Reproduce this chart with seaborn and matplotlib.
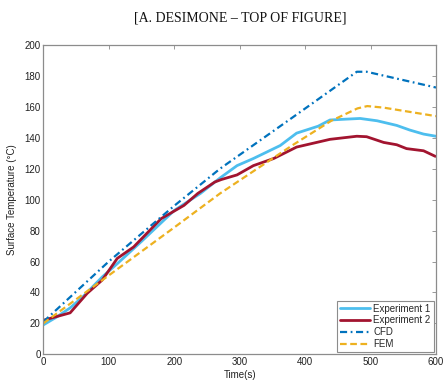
import matplotlib
matplotlib.use("Agg")
import matplotlib.pyplot as plt
import seaborn as sns
import pandas as pd

# ---- data ----
exp1_t = [0, 20, 41, 60, 90, 113, 150, 180, 200, 240, 270, 296, 321, 362, 387, 420, 438, 460, 484, 510, 540, 560, 581, 600]
exp1_T = [19, 24, 30, 37, 50, 58.6, 73, 85, 93, 104, 114, 122, 126.6, 135, 143, 147.5, 151.5, 152, 152.5, 151, 148, 145, 142.4, 141]

exp2_t = [0, 41, 67, 90, 113, 138, 180, 215, 236, 262, 272, 296, 321, 352, 387, 438, 479, 494, 520, 540, 555, 581, 599]
exp2_T = [22, 26.8, 39.4, 48, 62, 69.4, 87.7, 96.3, 104, 111.4, 113, 116, 122, 126.6, 134, 139, 141, 140.7, 137, 135.5, 133, 131.6, 128]

cfd_t = [0, 100, 200, 270, 387, 479, 494, 600]
cfd_T = [21, 60, 96, 120, 155, 182.7, 182.7, 172.5]

fem_t = [0, 100, 200, 270, 380, 440, 480, 495, 520, 600]
fem_T = [20, 51, 82, 104, 135, 151, 159, 160.5, 159.5, 154]

xticks = [0, 100, 200, 300, 400, 500, 600]
yticks = [0, 20, 40, 60, 80, 100, 120, 140, 160, 180, 200]

title_text = "[A. DESIMONE \u2013 TOP OF FIGURE]"
x_label = "Time(s)"
y_label = "Surface Temperature (\u00b0C)"

# ---- style ----
sns.set_style("white")
plt.rcParams['font.family'] = ['Liberation Sans', 'DejaVu Sans']

fig = plt.figure(figsize=(4.43, 3.82), dpi=100)
ax = fig.add_axes([43.3 / 443, 1 - 354.3 / 382, (436 - 43.3) / 443, (354.3 - 45) / 382])

c_exp1 = "#4DBEEE"
c_exp2 = "#A2142F"
c_cfd = "#0072BD"
c_fem = "#EDB120"

sns.lineplot(x=exp1_t, y=exp1_T, ax=ax, color=c_exp1, lw=2.0, label="Experiment 1")
sns.lineplot(x=exp2_t, y=exp2_T, ax=ax, color=c_exp2, lw=2.0, label="Experiment 2")
sns.lineplot(x=cfd_t, y=cfd_T, ax=ax, color=c_cfd, lw=1.6, label="CFD")
sns.lineplot(x=fem_t, y=fem_T, ax=ax, color=c_fem, lw=1.6, label="FEM")
lines = ax.get_lines()
lines[2].set_linestyle((0, (3.2, 1.6, 0.8, 1.6)))
lines[3].set_linestyle((0, (3, 1.6)))

ax.set_xlim(0, 600)
ax.set_ylim(0, 200)
ax.set_xticks(xticks)
ax.set_yticks(yticks)
ax.tick_params(direction="in", length=3, width=0.6, colors="#888888",
               labelcolor="#222222", labelsize=7, top=True, right=True, pad=2)
for s in ax.spines.values():
    s.set_color("#8c8c8c")
    s.set_linewidth(0.9)

ax.set_xlabel(x_label, fontsize=7, color="#222222", labelpad=2)
ax.set_ylabel(y_label, fontsize=7, color="#222222", labelpad=5)

leg = ax.legend(loc="lower right", fontsize=7, frameon=True, fancybox=False,
                framealpha=1, edgecolor="#8c8c8c", handlelength=3.0,
                labelspacing=0.18, borderpad=0.3, handletextpad=0.4,
                borderaxespad=0.25)
leg.get_frame().set_linewidth(0.8)

fig.text(240 / 443, 1 - 18 / 382, title_text, ha="center", va="center",
         fontsize=10, family=["Liberation Serif", "DejaVu Serif"], color="#111111")

fig.savefig("out.png", dpi=100)
